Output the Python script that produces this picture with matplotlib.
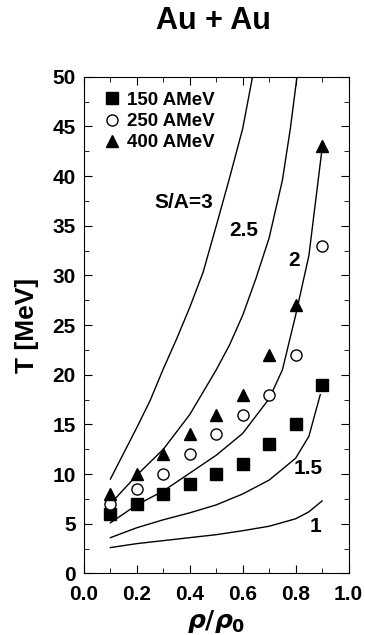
import matplotlib
matplotlib.use('Agg')
import matplotlib.pyplot as plt
from matplotlib.ticker import MultipleLocator

plt.rcParams['font.family'] = ['Liberation Sans', 'DejaVu Sans']
plt.rcParams['font.weight'] = 'bold'

# measured points
rho = [0.1, 0.2, 0.3, 0.4, 0.5, 0.6, 0.7, 0.8, 0.9]
T_150 = [6.0, 7.0, 8.0, 9.0, 10.0, 11.0, 13.0, 15.0, 19.0]
T_250 = [7.0, 8.5, 10.0, 12.0, 14.0, 16.0, 18.0, 22.0, 33.0]
T_400 = [8.0, 10.0, 12.0, 14.0, 16.0, 18.0, 22.0, 27.0, 43.0]

# isentropes S/A
x_s3 = [0.1, 0.15, 0.2, 0.25, 0.3, 0.35, 0.4, 0.45, 0.5, 0.55, 0.6, 0.637]
T_s3 = [9.5, 12.1, 14.7, 17.4, 20.6, 23.6, 26.8, 30.3, 35.0, 39.8, 44.8, 50.0]
x_s25 = [0.1, 0.2, 0.3, 0.4, 0.5, 0.55, 0.6, 0.65, 0.7, 0.75, 0.78, 0.805]
T_s25 = [7.0, 9.9, 12.5, 16.0, 20.5, 23.0, 26.0, 29.7, 33.8, 39.6, 44.8, 50.0]
x_s2 = [0.1, 0.2, 0.3, 0.4, 0.5, 0.6, 0.7, 0.75, 0.8, 0.85, 0.9]
T_s2 = [5.1, 6.9, 8.3, 10.1, 11.9, 14.1, 17.6, 20.5, 26.0, 32.0, 42.8]
x_s15 = [0.1, 0.2, 0.3, 0.4, 0.5, 0.6, 0.7, 0.8, 0.85, 0.893]
T_s15 = [3.6, 4.6, 5.4, 6.1, 6.9, 8.0, 9.4, 11.6, 13.8, 18.0]
x_s1 = [0.1, 0.2, 0.3, 0.4, 0.5, 0.6, 0.7, 0.8, 0.85, 0.9]
T_s1 = [2.6, 3.0, 3.3, 3.6, 3.9, 4.3, 4.75, 5.5, 6.2, 7.3]

curve_labels = ['S/A=3', '2.5', '2', '1.5', '1']
label_pos = [(0.378, 37.3), (0.605, 34.5), (0.793, 31.5), (0.848, 10.6), (0.874, 4.7)]

fig = plt.figure(figsize=(3.65, 6.35), dpi=100)
ax = fig.add_axes([0.230, 0.097, 0.725, 0.782])

for xs, ts in [(x_s3, T_s3), (x_s25, T_s25), (x_s2, T_s2), (x_s15, T_s15), (x_s1, T_s1)]:
    ax.plot(xs, ts, color='black', lw=1.0)

ax.plot(rho, T_150, 's', color='black', ms=8, label='150 AMeV')
ax.plot(rho, T_250, 'o', mfc='white', mec='black', mew=1.0, ms=8, label='250 AMeV')
ax.plot(rho, T_400, '^', color='black', ms=8, label='400 AMeV')

for txt, (px, py) in zip(curve_labels, label_pos):
    ax.text(px, py, txt, ha='center', va='center', fontsize=15, fontweight='bold')

ax.legend(loc='upper left', frameon=False, fontsize=13.5, handletextpad=0.3,
          borderaxespad=0.0, borderpad=0.0, labelspacing=0.22, handlelength=1.0,
          bbox_to_anchor=(0.07, 0.97))

ax.set_xlim(0, 1.0)
ax.set_ylim(0, 50)
ax.xaxis.set_major_locator(MultipleLocator(0.2))
ax.xaxis.set_minor_locator(MultipleLocator(0.1))
ax.yaxis.set_major_locator(MultipleLocator(5))
ax.yaxis.set_minor_locator(MultipleLocator(2.5))
ax.xaxis.set_major_formatter(plt.FormatStrFormatter('%.1f'))
ax.tick_params(which='both', direction='in', top=True, right=True, labelsize=15)
ax.tick_params(axis='x', which='major', pad=8)
ax.tick_params(axis='y', which='major', pad=6)
ax.tick_params(which='major', length=6)
ax.tick_params(which='minor', length=3.5)
for lab in ax.get_xticklabels() + ax.get_yticklabels():
    lab.set_fontweight('bold')

ax.set_ylabel('T [MeV]', fontsize=19, fontweight='bold')
ax.yaxis.set_label_coords(-0.17, 0.5)
ax.set_xlabel(r'$\rho/\rho_\mathbf{0}$', fontsize=18, labelpad=3)
fig.text(0.585, 0.967, 'Au + Au', ha='center', va='center', fontsize=22, fontweight='bold')

fig.savefig('out.png', dpi=100)
